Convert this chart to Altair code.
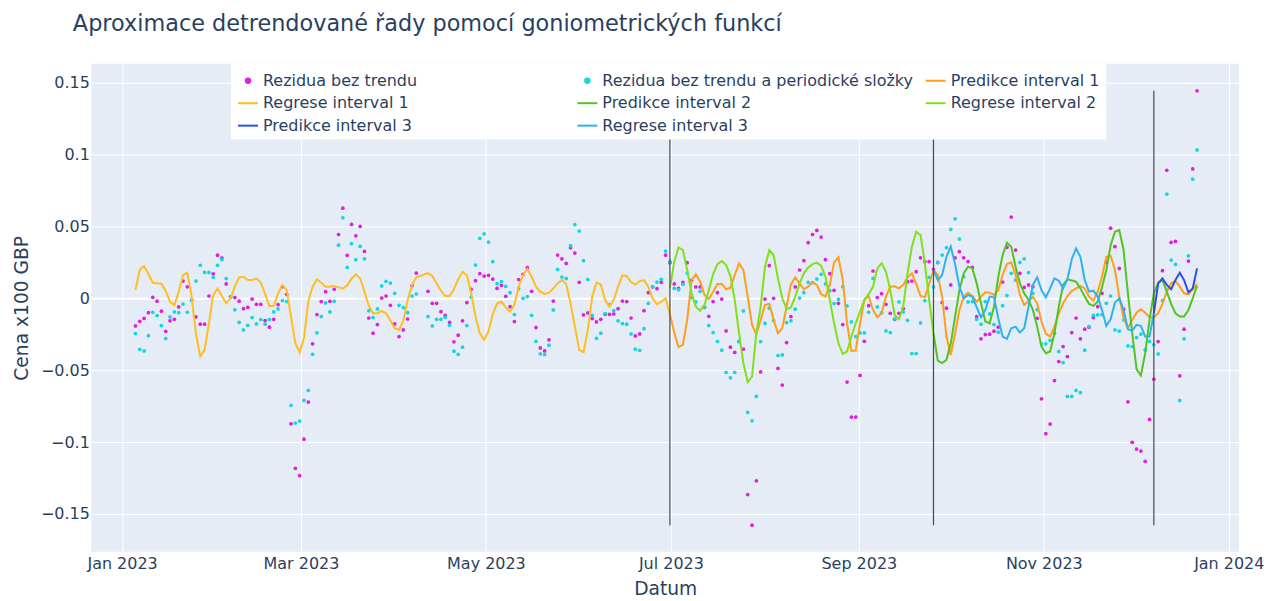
import altair as alt
import pandas as pd

# ---------------- data ----------------
rez = [-0.0192, -0.016, -0.014, -0.010, 0.0007, -0.002, -0.009, -0.023, -0.0157, -0.0146,
       -0.006, 0.012, 0.008, -0.001, -0.013, -0.018, -0.018, 0.0016, 0.017, 0.030,
       0.028, 0.010, 0.001, 0.0005, -0.002, -0.0072, -0.0063, -0.0005, -0.0042, -0.0042,
       -0.0155, -0.0201, -0.0146, -0.0044, 0.0081, 0.0028, -0.0873, -0.1183, -0.1234, -0.098,
       -0.0722, -0.0317, -0.0113, -0.0023, 0.0046, -0.0021, 0.0063, 0.0444, 0.0627, 0.0299,
       0.0514, 0.0435, 0.050, 0.0326, -0.0137, -0.0243, -0.0183, 0.0002, 0.0016, -0.0049,
       -0.0178, -0.0266, -0.022, -0.0144, 0.0088, 0.0176, None, None, 0.0049, -0.0035,
       -0.0035, -0.0093, -0.0118, -0.0167, -0.0303, -0.0257, -0.0157, -0.003, 0.0063, 0.0123,
       0.0171, 0.0155, 0.016, 0.0134, 0.0069, 0.009, 0.0014, -0.0058, -0.0162, 0.013,
       0.0167, 0.0213, 0.0049, -0.0204, -0.0345, -0.0366, -0.0289, -0.0019, 0.0301, 0.0275,
       0.0243, 0.0352, 0.0315, 0.0111, -0.0116, -0.0102, -0.0141, -0.0164, -0.0146, -0.0111,
       -0.0111, -0.0109, -0.0072, -0.0019, -0.0023, -0.0137, -0.0262, -0.0248, -0.0086, 0.0039,
       0.008, 0.0067, 0.0111, 0.030, 0.0248, 0.010, 0.007, 0.0111, 0.0248, 0.0125,
       0.0079, 0.0079, -0.0063, -0.0125, -0.0023, 0.0039, -0.0005, -0.0227, -0.034, -0.0377,
       -0.030, -0.0354, -0.1366, -0.1579, -0.127, -0.0512, -0.0005, 0.0227, 0.0, -0.0488,
       -0.0604, -0.0308, -0.0127, 0.0079, 0.0197, 0.0262, 0.0387, 0.0444, 0.0472, 0.0426,
       0.0269, 0.0171, 0.0056, -0.0035, -0.0183, -0.0583, -0.0826, -0.0826, -0.0537, -0.0299,
       -0.0051, 0.019, 0.0005, 0.0032, -0.0042, -0.0104, -0.0146, -0.0104, -0.0072, 0.0116,
       0.012, 0.0185, 0.0282, 0.0255, 0.0255, 0.0201, 0.025, -0.003, -0.0069, 0.0093,
       0.0282, 0.0324, 0.0282, 0.0255, 0.0215, -0.0127, -0.0282, -0.0252, -0.025, -0.0229,
       -0.0201, 0.0113, 0.0354, 0.0565, 0.0336, 0.0174, 0.0076, 0.0093, 0.0081, -0.0139,
       -0.0699, -0.0942, -0.0875, -0.0572, -0.044, -0.0336, -0.0405, -0.0238, -0.0137, -0.0282,
       -0.0215, -0.0201, -0.0134, -0.0058, 0.0035, 0.025, 0.0488, 0.0359, 0.0208, -0.0076,
       -0.072, -0.1002, -0.1049, -0.1063, -0.1134, -0.0843, -0.0563, -0.0301, 0.0192, 0.0891,
       0.0389, 0.0396, -0.0539, -0.0215, 0.0259, 0.090, 0.1444]

rez_per = [-0.0245, -0.0356, -0.0366, -0.026, -0.0097, -0.012, -0.019, -0.028, -0.013, -0.0095,
           -0.010, -0.004, -0.0097, -0.0014, 0.012, 0.023, 0.018, 0.018, 0.0146, 0.023,
           0.027, 0.0137, 0.001, -0.008, -0.0167, -0.022, -0.0188, -0.0134, -0.0178, -0.0148,
           -0.018, -0.0148, -0.0095, -0.0074, -0.0016, -0.0023, -0.0745, -0.0868, -0.0854, -0.071,
           -0.064, -0.039, -0.024, -0.0127, -0.0032, -0.0095, -0.0021, 0.037, 0.056, 0.0215,
           0.038, 0.0269, 0.0361, 0.0275, -0.0086, -0.0134, -0.0074, 0.0086, 0.0118, 0.0106,
           0.0035, -0.0049, -0.0065, -0.010, 0.0016, 0.003, None, None, -0.0127, -0.0192,
           -0.0146, -0.0146, -0.0132, -0.0188, -0.0368, -0.039, -0.034, -0.019, 0.0009, 0.0231,
           0.0417, 0.0449, 0.0391, 0.0255, 0.0102, 0.0116, 0.0083, 0.0039, -0.0113, 0.0067,
           0.0, 0.0012, -0.0118, -0.0299, -0.0387, -0.0391, -0.0326, -0.0081, 0.0201, 0.0148,
           0.0137, 0.0366, 0.0512, 0.0468, 0.0262, 0.013, -0.0118, -0.0278, -0.0243, -0.0106,
           -0.0044, -0.0086, -0.0157, -0.0176, -0.018, -0.0248, -0.0354, -0.0363, -0.0211, -0.0035,
           0.0081, 0.0113, 0.0132, 0.0329, 0.0255, 0.0069, 0.006, 0.0097, 0.0176, 0.0005,
           -0.0025, 0.0049, -0.006, -0.019, -0.0238, -0.0299, -0.0361, -0.0516, -0.0553, -0.0516,
           -0.0301, -0.0088, -0.0794, -0.0852, -0.0683, -0.0301, -0.0174, -0.0069, -0.0155, -0.0398,
           -0.0394, -0.0169, -0.0157, -0.0076, 0.0002, 0.0039, 0.0111, 0.0109, 0.0134, 0.0167,
           0.010, 0.0053, -0.0037, -0.0007, 0.0081, -0.0053, -0.0164, -0.0266, -0.0241, -0.0241,
           -0.0097, 0.0139, -0.006, -0.010, -0.0227, -0.0238, -0.0144, -0.0025, -0.0095, -0.0153,
           -0.0384, -0.0384, -0.0171, -0.0016, 0.0146, 0.0079, 0.0248, 0.0301, 0.0352, 0.0479,
           0.0553, 0.0412, 0.015, -0.0025, -0.0023, -0.0146, -0.018, -0.0023, -0.0109, -0.0183,
           -0.0236, -0.0051, 0.0019, 0.0174, 0.0127, 0.025, 0.0275, 0.0178, 0.0035, -0.0079,
           -0.0317, -0.0317, -0.0292, -0.0245, -0.037, -0.0447, -0.0683, -0.0683, -0.0641, -0.0657,
           -0.0361, -0.0197, -0.0118, -0.0116, -0.0113, -0.0035, 0.0016, -0.022, -0.0229, -0.015,
           -0.0331, -0.0336, -0.0273, -0.025, -0.0359, -0.030, -0.0324, -0.0387, -0.0016, 0.0725,
           0.0266, 0.0236, -0.0711, -0.0282, 0.0296, 0.0829, 0.1032]

reg1_start = 0
reg1 = [0.0058, 0.020, 0.0225, 0.0169, 0.0109, 0.0104, 0.0102, 0.0051, -0.0025, -0.0049,
        0.0046, 0.0162, 0.0178, 0.0012, -0.0248, -0.0405, -0.0359, -0.0174, 0.0023, 0.0069,
        0.0016, -0.0035, 0.0, 0.0081, 0.0146, 0.015, 0.0127, 0.0127, 0.0139, 0.0109,
        0.003, -0.0053, -0.0053, 0.0035, 0.0093, 0.0058, -0.0127, -0.0313, -0.0377, -0.0278,
        -0.002, 0.0081, 0.0132, 0.0109, 0.0081, 0.0081, 0.0086, 0.0076, 0.0067, 0.009,
        0.0137, 0.0167, 0.0139, 0.0046, -0.0051, -0.0104, -0.0104, -0.0088, -0.0104, -0.0155,
        -0.0208, -0.022, -0.0155, -0.0012, 0.0093, 0.0146, None, None, 0.0176, 0.0155,
        0.0104, 0.0053, 0.0016, 0.0016, 0.0063, 0.0132, 0.0185, 0.016, 0.0035, -0.0127,
        -0.0243, -0.0289, -0.0231, -0.011, -0.0035, -0.0023, -0.0063, -0.0093, -0.0046, 0.0081,
        0.0162, 0.0204, 0.015, 0.0081, 0.0046, 0.003, 0.0039, 0.0067, 0.0104, 0.0127,
        0.010, -0.0035, -0.0197, -0.0359, -0.0375, -0.022, 0.0012, 0.0109, 0.0097, -0.0012,
        -0.0058, -0.0012, 0.0081, 0.016, 0.0155, 0.0113, 0.0095, 0.012, 0.0127, 0.0081,
        0.0, -0.0042, -0.0023, 0.0, -0.011]

pred1_start = 124
pred1 = [-0.011, -0.024, -0.034, -0.0324, -0.015, 0.0127, 0.0167, 0.0116, 0.0023, -0.0005,
         0.0046, 0.010, 0.010, 0.0063, 0.0074, 0.0162, 0.0243, 0.0197, 0.0012, -0.0185,
         -0.025, -0.015, -0.0046, -0.0039, -0.015, -0.0243, -0.0208, -0.0058, 0.0097, 0.0146,
         0.0104, 0.0063, 0.0081, 0.0111, 0.0093, 0.003, 0.0012, 0.0093, 0.0248, 0.0285,
         0.0127, -0.0174, -0.0366, -0.0363, -0.0174, -0.0012, 0.0016, -0.0081, -0.0132, -0.0104,
         0.0012, 0.0081, 0.0083, 0.0069, 0.0093, 0.0146, 0.0174, 0.010, 0.0016, 0.0007,
         0.010, 0.0195, 0.0162, 0.0012, -0.0266, -0.0394, -0.0243, -0.0081, 0.0012, 0.0039,
         0.0016, -0.0023, 0.0012, 0.0042, 0.0039, 0.0023, 0.0058, 0.0162, 0.0238, 0.025,
         0.0162, 0.0023, -0.0046, -0.0023, 0.0012, -0.0035, -0.0162, -0.0248, -0.0266, -0.0197,
         -0.0104, -0.0035, 0.0016, 0.005, 0.0069, 0.0086, 0.0069, 0.0012, -0.0016, 0.0046,
         0.015, 0.0289, 0.0296, 0.0197, 0.0012, -0.0139, -0.0208, -0.015, -0.010, -0.0076,
         -0.010, -0.0132, -0.0134, -0.0104, -0.0039, 0.0046, 0.0104, 0.012, 0.0081, 0.0035,
         0.0028, 0.0062, 0.010]

reg2_start = 124
reg2 = [0.0069, 0.0255, 0.0354, 0.0336, 0.0197, 0.0035, -0.0058, -0.0086, -0.0046, 0.0058,
        0.0169, 0.0238, 0.0259, 0.0231, 0.0155, -0.0012, -0.0243, -0.0451, -0.0583, -0.0544,
        -0.0243, -0.0058, 0.022, 0.0336, 0.0301, 0.0139, 0.0, -0.0074, -0.0063, 0.0012,
        0.0104, 0.0174, 0.0215, 0.0238, 0.0248, 0.0225, 0.015, -0.0012, -0.0174, -0.0313,
        -0.0387, -0.037, -0.0266, -0.0174, -0.0093, -0.0012, 0.003, 0.0081, 0.0208, 0.0243,
        0.0185, 0.0058, -0.0116, -0.0146, -0.0058, 0.0174, 0.0359, 0.0463, 0.044, 0.0243,
        -0.0012, -0.0243]

pred2_start = 185
pred2 = [-0.0243, -0.0433, -0.0451, -0.0428, -0.0313, -0.0127, 0.0058, 0.0174, 0.022, 0.0208,
         0.0104, -0.0035, -0.0162, -0.0174, -0.0058, 0.015, 0.0301, 0.0387, 0.0359, 0.022,
         0.0104, 0.0035, -0.0012, -0.0081, -0.0197, -0.0336, -0.0382, -0.037, -0.0243, -0.0058,
         0.0093, 0.0132, 0.0124, 0.0116, 0.0069, 0.0012, -0.0039, -0.0053, -0.0023, 0.0076,
         0.0197, 0.037, 0.0463, 0.0475, 0.0336, 0.0035, -0.0243, -0.0493, -0.0537, -0.0382,
         -0.015, 0.0035, 0.0109, 0.0127, 0.0046, -0.0039, -0.0104, -0.0127, -0.0127, -0.0081,
         0.0, 0.0086]

reg3_start = 185
reg3 = [0.0197, 0.0127, 0.0162, 0.0289, 0.0359, 0.0238, 0.0081, 0.0, 0.0023, 0.0012,
        -0.0063, -0.0132, -0.0081, 0.0012, 0.0007, -0.0139, -0.0266, -0.0282, -0.0208, -0.0197,
        -0.0238, -0.0208, -0.0058, 0.0093, 0.0146, 0.0058, 0.0007, 0.0069, 0.0139, 0.0123,
        0.0069, 0.0132, 0.0272, 0.0347, 0.0289, 0.0127, 0.0046, 0.0053, 0.0012, -0.0081,
        -0.0192, -0.0146, -0.003, 0.0, -0.0081, -0.0215, -0.0225, -0.0185, -0.0192, -0.0266,
        -0.0266, -0.0104]

pred3_start = 236
pred3 = [-0.0104, 0.0104, 0.0139, 0.0093, 0.0063, 0.0127, 0.0178, 0.0127, 0.0042, 0.0069,
         0.0208]

# interval boundaries (sample index where a new interval begins)
boundaries = [124, 185, 236]

# sample grid: evenly spaced samples, with the Easter break
START = pd.Timestamp("2023-01-05 10:00")
STEP_H = 34.2
EASTER_AT = 66
EASTER_SHIFT = 0.3


def sample_time(i):
    k = i - EASTER_SHIFT if i >= EASTER_AT else i
    return START + pd.Timedelta(hours=STEP_H * k)


names = ["Rezidua bez trendu", "Rezidua bez trendu a periodické složky",
         "Predikce interval 1", "Regrese interval 1",
         "Predikce interval 2", "Regrese interval 2",
         "Predikce interval 3", "Regrese interval 3"]
colors = ["#e01ee0", "#14d6e0", "#ff9e1b", "#ffbe1f",
          "#52c41e", "#80e01c", "#2a4ef0", "#2eb2ee"]

# ---------------- tables ----------------
pt_rows = []
for name, vals in [(names[0], rez), (names[1], rez_per)]:
    for i, v in enumerate(vals):
        if v is not None:
            pt_rows.append({"t": sample_time(i).isoformat(), "v": v, "s": name})
pts = pd.DataFrame(pt_rows)

line_rows = []
for name, start, vals in [(names[3], reg1_start, reg1), (names[2], pred1_start, pred1),
                          (names[5], reg2_start, reg2), (names[4], pred2_start, pred2),
                          (names[7], reg3_start, reg3), (names[6], pred3_start, pred3)]:
    for j, v in enumerate(vals):
        if v is not None:
            line_rows.append({"t": sample_time(start + j).isoformat(), "v": v, "s": name})
lines = pd.DataFrame(line_rows)

all_vals = [v for v in rez + rez_per if v is not None]
rules = pd.DataFrame({"t": [sample_time(b).isoformat() for b in boundaries],
                      "lo": [min(all_vals)] * 3, "hi": [max(all_vals)] * 3})

FONT = "DejaVu Sans"
TXT = "#2a3f5f"

is_pt = "indexof(datum.value, 'Rezidua') === 0"
col = "scale('color', datum.value)"
dot = "M-0.22,0A0.22,0.22,0,1,0,0.22,0A0.22,0.22,0,1,0,-0.22,0Z"
# widen the first legend column (Plotly uses equal column widths); the trailing
# zero-width space keeps the padding from being trimmed
pad = "\u00a0" * 29 + "\u200b"
legend = alt.Legend(
    title=None, orient="none", legendX=140, legendY=0, columns=3, direction="horizontal",
    gridAlign="each", columnPadding=8, rowPadding=3.5, padding=6,
    fillColor="white",
    symbolType={"expr": f"{is_pt} ? '{dot}' : 'stroke'"},
    symbolSize=400, symbolStrokeWidth=2,
    symbolFillColor={"expr": f"{is_pt} ? {col} : 'transparent'"},
    symbolStrokeColor={"expr": f"{is_pt} ? 'transparent' : {col}"},
    symbolOpacity=1,
    labelFont=FONT, labelFontSize=16, labelColor=TXT, labelOffset=4, labelLimit=600,
    labelExpr="datum.label == 'Rezidua bez trendu' ? datum.label + '" + pad + "' : datum.label",
)

color = alt.Color("s:N", scale=alt.Scale(domain=names, range=colors), legend=legend)

x_scale = alt.Scale(domain=[alt.DateTime(year=2022, month=12, date=21, hours=20, minutes=38),
                            alt.DateTime(year=2024, month=1, date=4, hours=9, minutes=30)])
y_scale = alt.Scale(domain=[-0.17639, 0.16319], nice=False, zero=False)

x_ticks = [alt.DateTime(year=2023, month=m, date=1) for m in (1, 3, 5, 7, 9, 11)] + \
          [alt.DateTime(year=2024, month=1, date=1)]
x_axis = alt.Axis(title="Datum", values=x_ticks, format="%b %Y", labelFlush=False,
                  labelFont=FONT, labelFontSize=16, labelColor=TXT, labelPadding=4,
                  titleFont=FONT, titleFontSize=18.7, titleFontWeight="normal", titleColor=TXT,
                  titlePadding=8, grid=True, gridColor="white", gridWidth=1,
                  domain=False, ticks=False, labelOverlap=False)
y_axis = alt.Axis(title="Cena x100 GBP", values=[-0.15, -0.1, -0.05, 0, 0.05, 0.1, 0.15],
                  format="~g", labelFont=FONT, labelFontSize=16, labelColor=TXT, labelPadding=2,
                  titleFont=FONT, titleFontSize=18.7, titleFontWeight="normal", titleColor=TXT,
                  titlePadding=9, grid=True, gridColor="white",
                  gridWidth={"condition": {"test": "datum.value === 0", "value": 2}, "value": 1},
                  domain=False, ticks=False)

X = alt.X("t:T", scale=x_scale, axis=x_axis)
Y = alt.Y("v:Q", scale=y_scale, axis=y_axis)

points = alt.Chart(pts).mark_circle(size=14, opacity=1).encode(x=X, y=Y, color=color)
line_layer = alt.Chart(lines).mark_line(strokeWidth=2, opacity=1).encode(
    x=alt.X("t:T"), y=alt.Y("v:Q"), color=color, detail="s:N")
rule_layer = alt.Chart(rules).mark_rule(color="#4a4a4a", strokeWidth=1.2).encode(
    x=alt.X("t:T"), y=alt.Y("lo:Q"), y2="hi:Q")

chart = alt.layer(points, line_layer, rule_layer).properties(
    width=1150, height=489,
    autosize=alt.AutoSizeParams(type="none"),
    padding={"left": 83.5, "top": 55.3, "right": 30, "bottom": 48},
    title=alt.TitleParams(text="Aproximace detrendované řady pomocí goniometrických funkcí",
                          anchor="start", frame="group", dx=-18.5, offset=10,
                          baseline="alphabetic", font=FONT, fontSize=22.4,
                          fontWeight="normal", color=TXT),
).configure(background="white", view=alt.ViewConfig(fill="#e5ecf6", strokeWidth=0))

chart.save("out.html", embed_options={"renderer": "svg", "actions": False})
